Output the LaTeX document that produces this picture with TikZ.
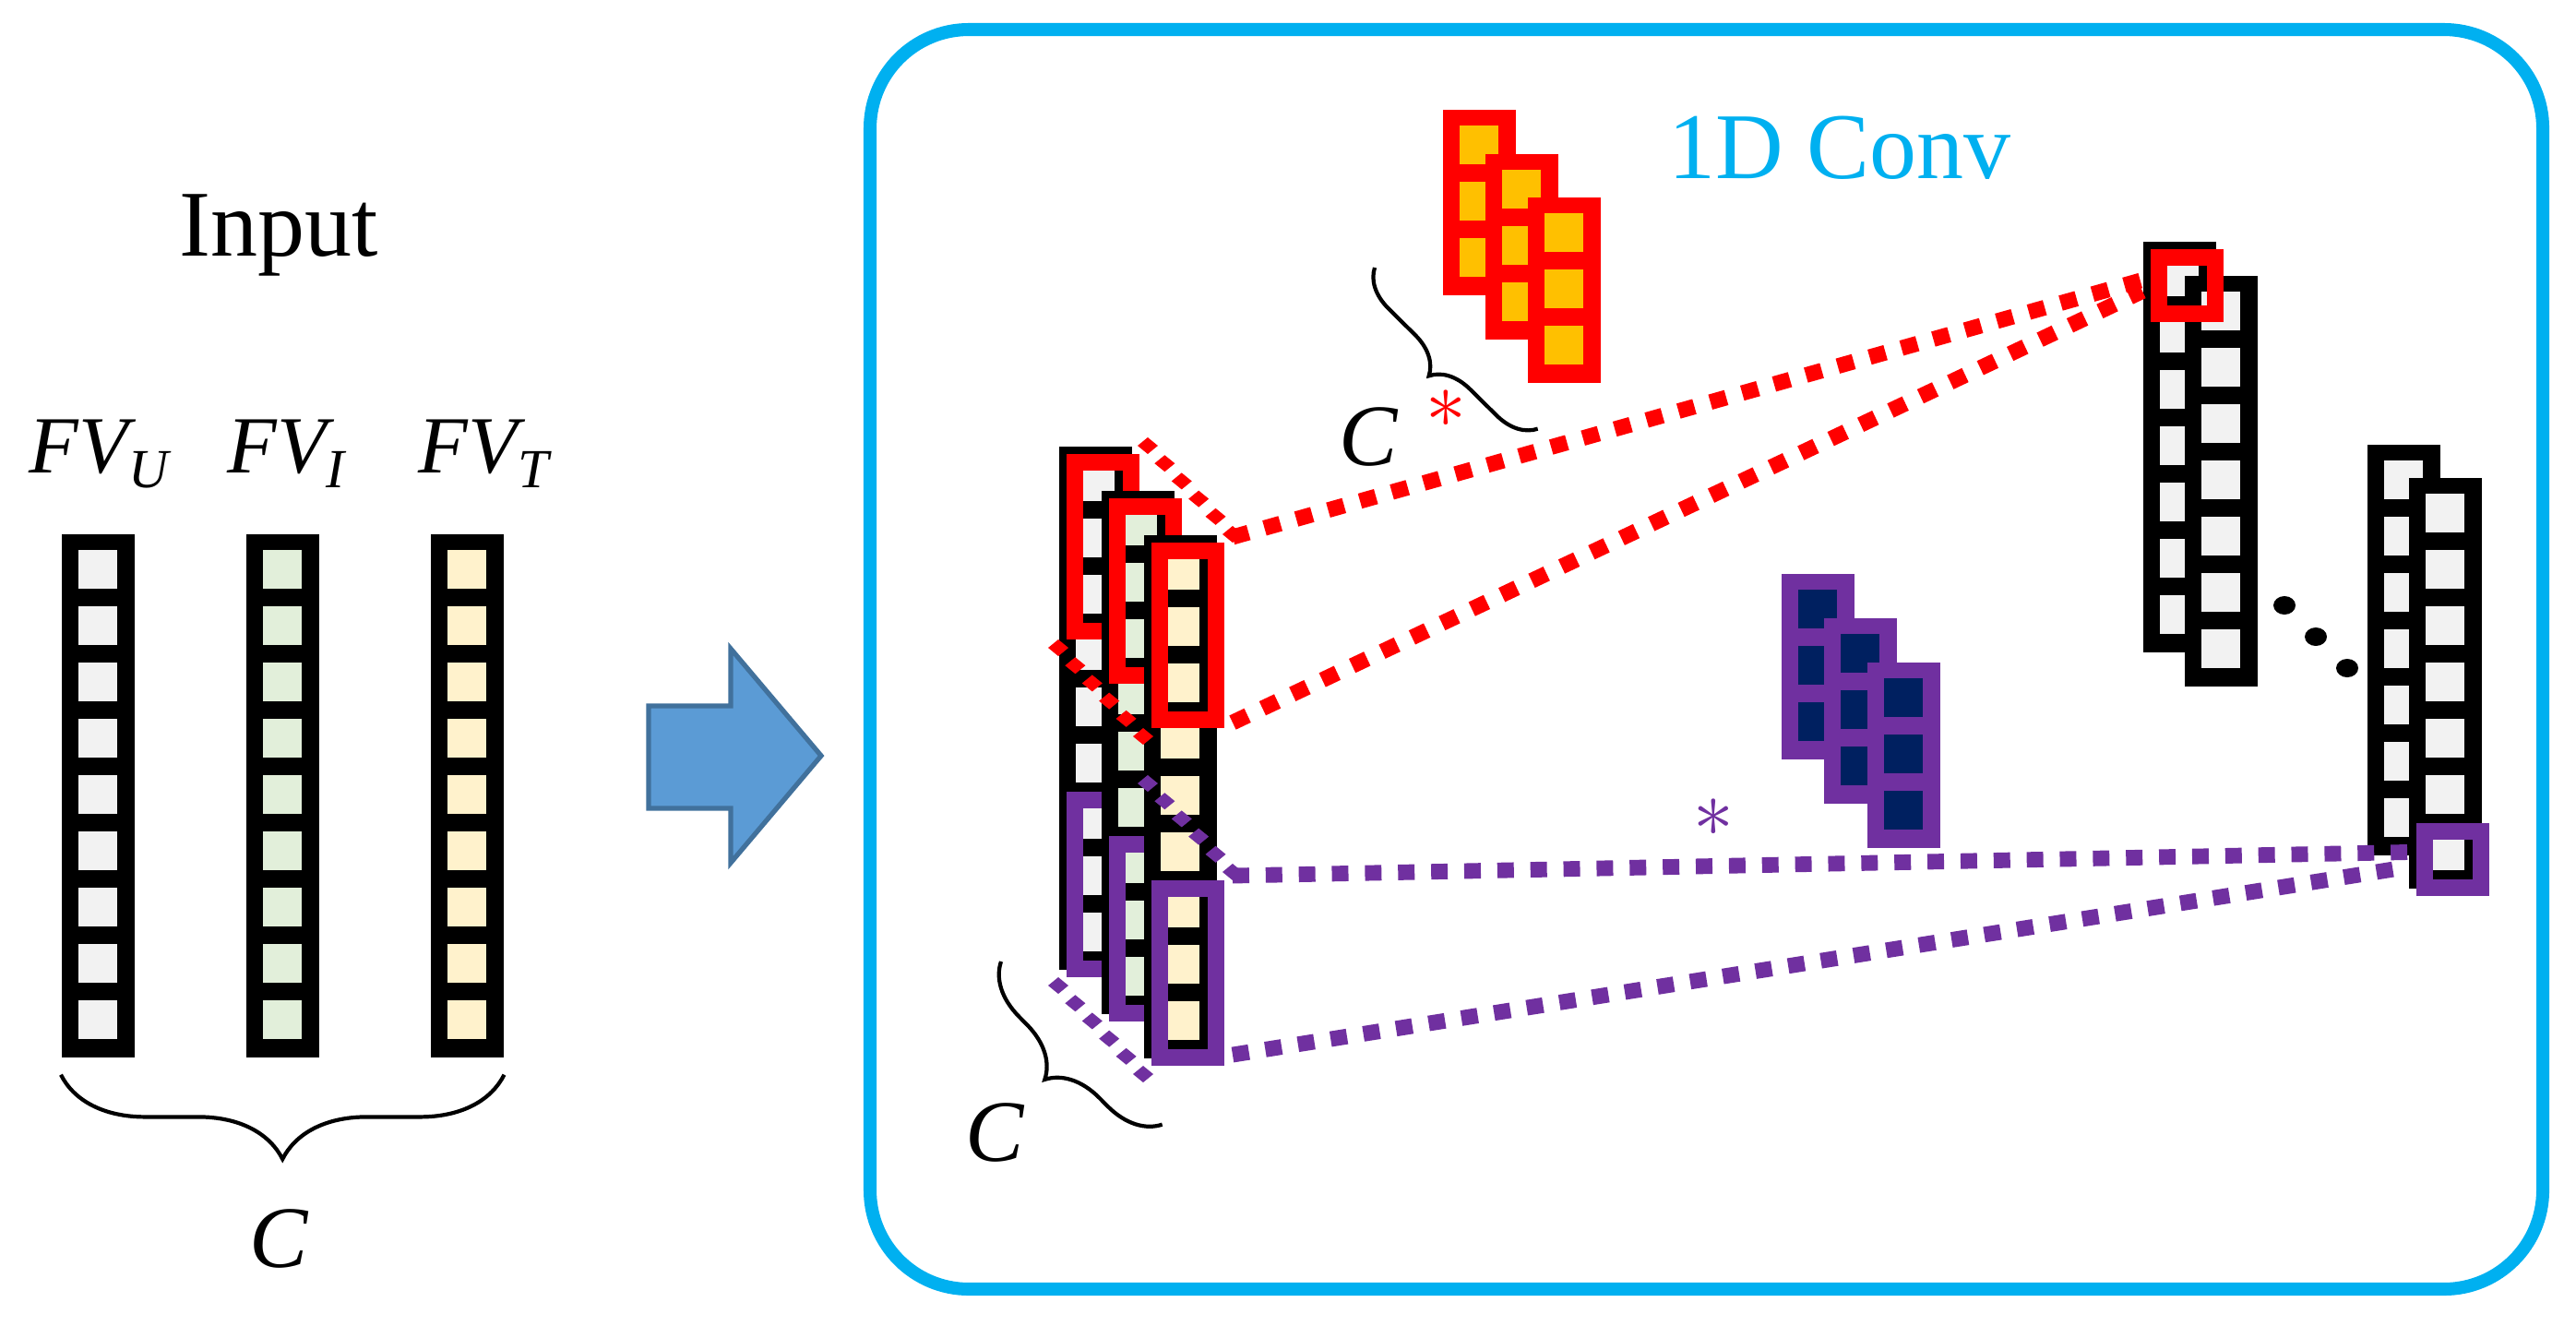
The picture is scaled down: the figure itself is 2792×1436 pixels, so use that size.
\documentclass[tikz,border=0pt]{standalone}
\usepackage{fontspec}
\setmainfont{Liberation Serif}
\usetikzlibrary{calc,decorations.pathreplacing}
\definecolor{cellU}{HTML}{F2F2F2}
\definecolor{cellI}{HTML}{E2EFDA}
\definecolor{cellT}{HTML}{FFF2CC}
\definecolor{kred}{HTML}{FF0000}
\definecolor{korange}{HTML}{FFC000}
\definecolor{kpurple}{HTML}{7030A0}
\definecolor{knavy}{HTML}{002060}
\definecolor{convblue}{HTML}{00B0F0}
\definecolor{arrowfill}{HTML}{5B9BD5}
\definecolor{arrowedge}{HTML}{41719C}
\tikzset{
 colbox/.style={rectangle, inner sep=0, minimum width=22.48pt, anchor=north west},
 frame/.style={rectangle, draw=#1, line width=5.1pt, inner sep=0, minimum width=17.35pt, anchor=north west},
 conn/.style={line width=4.8pt, dash pattern=on 5.1pt off 5.1pt, draw=#1},
 lbl/.style={font=\fontsize{25}{25}\selectfont\itshape, inner sep=0, anchor=base},
 clbl/.style={font=\fontsize{27}{27}\selectfont\itshape, inner sep=0},
 brc/.style={decorate, line width=1.2pt, decoration={brace, mirror, amplitude=#1}},
}
\newcommand\colm[6]{%
 \pgfmathsetmacro\hh{(#4*61+18)*0.2845}%
 \node[colbox, fill=#6, minimum height=\hh pt] (#1) at (#2,#3) {};
 \foreach \i in {1,...,#4}{\fill[#5] ({#2+18.5},{#3+18+(\i-1)*61}) rectangle ++(42,42);}
}
\newcommand\frm[5]{%
 \pgfmathsetmacro\hh{(#4*61)*0.2845}%
 \node[frame=#5, minimum height=\hh pt] (#1) at ({#2+9},{#3+9}) {};
}
\newcommand\diam[3]{%
 \foreach \t in {0,0.2,0.4,0.6,0.8,1.0}{\fill[#3] ($(#1)!\t!(#2)$) +(-11,0) -- +(0,9) -- +(11,0) -- +(0,-9) -- cycle;}
}
\begin{document}
\begin{tikzpicture}[x=0.01cm,y=-0.01cm]
\useasboundingbox (0,0) rectangle (2792,1436);
% input
\node[font=\fontsize{29}{29}\selectfont, inner sep=0] (input) at (302,255) {Input};
\node[lbl] (fvu) at (107,512) {FV\raisebox{-0.4ex}{\fontsize{17}{17}\selectfont U}};
\node[lbl] (fvi) at (310,512) {FV\raisebox{-0.4ex}{\fontsize{17}{17}\selectfont I}};
\node[lbl] (fvt) at (524,512) {FV\raisebox{-0.4ex}{\fontsize{17}{17}\selectfont T}};
\colm{iu}{66}{578}{9}{cellU}{black}
\colm{ii}{266}{578}{9}{cellI}{black}
\colm{it}{466}{578}{9}{cellT}{black}
\coordinate (b1) at ($(iu.south west)+(0,18)$);
\coordinate (b2) at ($(it.south east)+(0,18)$);
\draw[brc=26pt] (b1) -- (b2);
\node[clbl] (cin) at (302,1342) {C};
% arrow
\draw[fill=arrowfill, draw=arrowedge, line width=1.5pt] (703,765)--(792,765)--(792,703)--(890,819)--(792,935)--(792,876)--(703,876)--cycle;
% box
\draw[convblue, line width=4pt, rounded corners=1.07cm] (943,32) rectangle (2756,1397);
\node[text=convblue, font=\fontsize{29}{29}\selectfont, inner sep=0] (conv) at (1994,160) {1D Conv};
% red kernel
\colm{k1}{1563}{118}{3}{korange}{kred}
\colm{k2}{1609}{166}{3}{korange}{kred}
\colm{k3}{1655}{213}{3}{korange}{kred}
% purple kernel
\colm{q1}{1930}{621}{3}{knavy}{kpurple}
\colm{q2}{1976}{669}{3}{knavy}{kpurple}
\colm{q3}{2023}{717}{3}{knavy}{kpurple}
% left stack
\colm{s1}{1147}{483}{9}{cellU}{black}
\frm{r1}{1147}{483}{3}{kred}
\frm{p1}{1147}{849}{3}{kpurple}
\colm{s2}{1193}{531}{9}{cellI}{black}
\frm{r2}{1193}{531}{3}{kred}
\frm{p2}{1193}{897}{3}{kpurple}
\colm{s3}{1239}{579}{9}{cellT}{black}
\frm{r3}{1239}{579}{3}{kred}
\frm{p3}{1239}{945}{3}{kpurple}
\diam{$(r1.north east)+(9,-9)$}{$(r3.north east)+(9,-9)$}{kred}
\diam{$(r1.south west)+(-9,9)$}{$(r3.south west)+(-9,9)$}{kred}
\diam{$(p1.north east)+(9,-9)$}{$(p3.north east)+(9,-9)$}{kpurple}
\diam{$(p1.south west)+(-9,9)$}{$(p3.south west)+(-9,9)$}{kpurple}
% right columns
\colm{a1}{2322}{261}{7}{cellU}{black}
\colm{a2}{2367}{298}{7}{cellU}{black}
\frm{ra}{2322}{261}{1}{kred}
\colm{c1}{2565}{481}{7}{cellU}{black}
\colm{c2}{2610}{517}{7}{cellU}{black}
\frm{pb}{2610}{883}{1}{kpurple}
\fill (2476,656) ellipse [x radius=12, y radius=10] node (d1) {};
\fill (2510,690) ellipse [x radius=12, y radius=10] node (d2) {};
\fill (2544,724) ellipse [x radius=12, y radius=10] node (d3) {};
% connectors
\draw[conn=kred] ($(r3.north east)+(9,-6)$) -- ($(ra.west)+(-9,-6)$);
\draw[conn=kred] ($(r3.south east)+(9,-6)$) -- ($(ra.west)+(-9,6)$);
\draw[conn=kpurple] ($(p3.north east)+(9,-5)$) -- ($(pb.west)+(-9,-8)$);
\draw[conn=kpurple] ($(p3.south east)+(9,-12)$) -- ($(pb.west)+(-9,8)$);
% braces and labels
\draw[brc=12pt] (1490,290) -- (1667,465);
\node[clbl] (c2l) at (1483,473) {C};
\node[text=kred, font=\fontsize{34}{34}\selectfont, inner sep=0] (ast1) at (1567,443) {$\ast$};
\draw[brc=16pt] (1085,1042) -- (1260,1219);
\node[clbl] (c3l) at (1078,1227) {C};
\node[text=kpurple, font=\fontsize{34}{34}\selectfont, inner sep=0] (ast2) at (1857,886) {$\ast$};
\end{tikzpicture}
\end{document}
